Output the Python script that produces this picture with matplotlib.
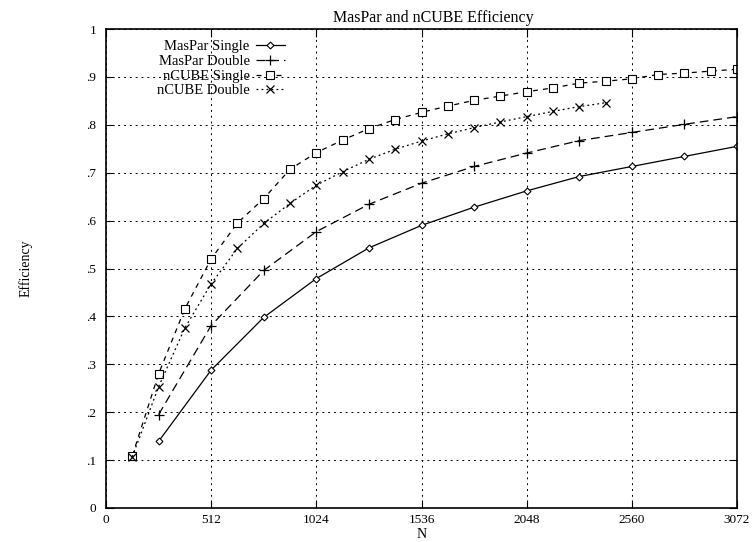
import numpy as np
import matplotlib
matplotlib.use("Agg")
import matplotlib.pyplot as plt
from matplotlib.ticker import FuncFormatter

plt.rcParams['font.family'] = ['Liberation Serif', 'DejaVu Serif']

# problem sizes
n_maspar = [256, 512, 768, 1024, 1280, 1536, 1792, 2048, 2304, 2560, 2816, 3072]
n_ncube_single = list(range(128, 3073, 128))
n_ncube_double = list(range(128, 2433, 128))

# efficiencies
maspar_single = [.139, .288, .398, .479, .543, .590, .628, .662, .692, .713, .734, .755]
maspar_double = [.195, .381, .496, .577, .634, .678, .713, .741, .767, .784, .801, .817]
ncube_single = [.109, .280, .416, .520, .595, .646, .707, .742, .768, .792, .811, .826,
                .839, .851, .860, .869, .877, .887, .891, .896, .905, .908, .912, .916]
ncube_double = [.107, .253, .376, .468, .542, .594, .636, .674, .702, .728, .749, .766,
                .781, .794, .806, .817, .828, .838, .846]

fig = plt.figure(figsize=(7.53, 5.42), dpi=100)
ax = fig.add_axes([106 / 753, 1 - 508 / 542, (737 - 106) / 753, (508 - 29) / 542])

ax.plot(n_maspar, maspar_single, color='black', linestyle='-', linewidth=0.9,
        marker='D', markersize=3.5, markerfacecolor='white', markeredgewidth=0.8,
        label='MasPar Single')
ax.plot(n_maspar, maspar_double, color='black', linestyle=(0, (7, 4)), linewidth=0.9,
        marker='+', markersize=7, markeredgewidth=0.9, label='MasPar Double')
ax.plot(n_ncube_single, ncube_single, color='black', linestyle=(0, (4, 4)), linewidth=0.9,
        marker='s', markersize=5.5, markerfacecolor='white', markeredgewidth=0.8,
        label='nCUBE Single')
ax.plot(n_ncube_double, ncube_double, color='black', linestyle=(0, (1.5, 2.5)), linewidth=0.9,
        marker='x', markersize=5.5, markeredgewidth=0.9, label='nCUBE Double')

ax.set_xlim(0, 3072)
ax.set_ylim(0, 1)
ax.set_xticks([0, 512, 1024, 1536, 2048, 2560, 3072])
ax.set_yticks(np.arange(0, 1.01, 0.1))


def yfmt(v, pos):
    if abs(v) < 1e-9:
        return '0'
    if abs(v - 1) < 1e-9:
        return '1'
    return ('%.1f' % v).lstrip('0')


ax.yaxis.set_major_formatter(FuncFormatter(yfmt))
ax.tick_params(direction='in', length=6, width=0.8, labelsize=9.5,
               top=True, right=True, pad=7)
ax.tick_params(axis='x', pad=4)
ax.grid(True, color='black', linestyle=(0, (2, 4)), linewidth=0.7)
for s in ax.spines.values():
    s.set_linewidth(1.2)

ax.set_title('MasPar and nCUBE Efficiency', fontsize=11.5, pad=5,
             x=(433 - 106) / 631)
ax.set_xlabel('N', fontsize=10, va='center')
ax.xaxis.set_label_coords(0.5, -(534 - 508) / 479)
ax.set_ylabel('Efficiency', fontsize=10)
ax.yaxis.set_label_coords(-(106 - 33) / 631, 0.5)

leg = ax.legend(loc='upper right', bbox_to_anchor=((292 - 106) / 631, 0.992),
                frameon=False, markerfirst=False, fontsize=10.5, handlelength=2.0,
                labelspacing=0.1, handletextpad=0.4, borderpad=0.0)

fig.savefig('out.png', dpi=100)
